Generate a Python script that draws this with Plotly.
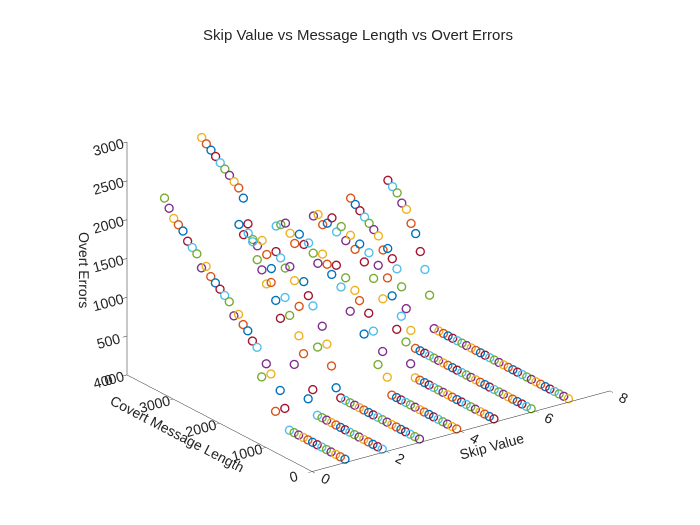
import plotly.graph_objects as go

lengths = list(range(100, 4100, 100))
skips = [1, 2, 3, 4, 5, 6, 7]

err_skip1 = [0]*13 + [250,450,150,600,700,500,850,900,1000,1050,1150,1100,1250,1300,1350,1400,1450,1550,1500,1650,1700,1750,1850,1900,1950,2050,2150]
err_skip2 = [0]*15 + [300,150,700,900,500,1100,1300,1000,1200,1400,1350,1500,1600,1800,2000,2300,2400,2450,2500,2550,2600,2650,2700,2750,2800]
err_skip3 = [0]*18 + [100,350,600,800,500,1000,1100,1250,900,1200,1350,1300,1400,1450,1200,1350,1500,1400,1450,1500,1450,1550]
err_skip4 = [0]*15 + [200,500,300,700,900,600,1000,1100,800,1200,1050,1300,1150,1250,1350,1200,1300,1400,1350,1450,1300,1400,1500,1450,1400]
err_skip5 = [0]*18 + [150,400,700,500,900,1100,800,1200,1000,1300,1150,1350,1250,1400,1300,1450,1350,1500,1400,1350,1450,1400]
err_skip6 = [0]*26 + [200,450,700,900,1000,1100,1050,1200,1250,1300,1350,1400,1450,1500]
err_skip7 = [0]*30 + [400,700,900,1100,1200,1350,1400,1500,1550,1600]
errors = [err_skip1, err_skip2, err_skip3, err_skip4, err_skip5, err_skip6, err_skip7]

# matlab default color order, cycled per point (scatter3 in a loop with hold on)
matlab_colors = ['#0072BD', '#D95319', '#EDB120', '#7E2F8E', '#77AC30', '#4DBEEE', '#A2142F']

xs, ys, zs, cs = [], [], [], []
k = 0
for s, errs in zip(skips, errors):
    for L, e in zip(lengths, errs):
        xs.append(s)
        ys.append(L)
        zs.append(e)
        cs.append(matlab_colors[k % 7])
        k += 1

fig = go.Figure(go.Scatter3d(
    x=xs, y=ys, z=zs, mode='markers',
    marker=dict(symbol='circle-open', size=5, color=cs, line=dict(width=1, color=cs)),
    showlegend=False))

ax = dict(showgrid=False, zeroline=False, showbackground=False, showline=True,
          linecolor='#262626', ticks='outside', tickcolor='#262626',
          tickfont=dict(size=13, color='#262626'), title_font=dict(size=15, color='#262626'))

fig.update_layout(
    width=700, height=525,
    paper_bgcolor='white',
    font=dict(family='Arial, Liberation Sans', color='#262626'),
    title=dict(text='Skip Value vs Message Length vs Overt Errors', x=0.5, y=0.96,
               font=dict(size=15)),
    margin=dict(l=0, r=0, t=40, b=0),
    scene=dict(
        domain=dict(x=[0.03, 1], y=[0.1, 1]),
        xaxis=dict(ax, range=[0, 8], tickvals=[0, 2, 4, 6, 8], title='Skip Value'),
        yaxis=dict(ax, range=[0, 4000], tickvals=[0, 1000, 2000, 3000, 4000], title='Covert Message Length'),
        zaxis=dict(ax, range=[0, 3000], tickvals=[0, 500, 1000, 1500, 2000, 2500, 3000], title='Overt Errors'),
        aspectmode='manual', aspectratio=dict(x=1.68, y=1.45, z=1.15),
        camera=dict(eye=dict(x=-0.72, y=-1.0, z=0.5), projection=dict(type='orthographic')),
    ),
)

fig.write_html("out.html")
